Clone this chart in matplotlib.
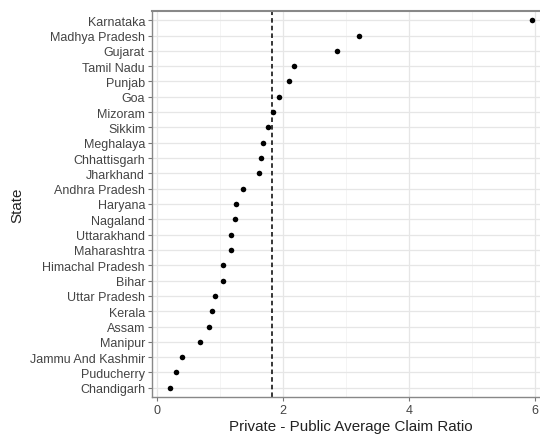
import matplotlib
matplotlib.use("Agg")
import matplotlib.pyplot as plt
import numpy as np

plt.rcParams['font.family'] = ['Liberation Sans', 'DejaVu Sans']

states = ["Karnataka", "Madhya Pradesh", "Gujarat", "Tamil Nadu", "Punjab", "Goa",
          "Mizoram", "Sikkim", "Meghalaya", "Chhattisgarh", "Jharkhand",
          "Andhra Pradesh", "Haryana", "Nagaland", "Uttarakhand", "Maharashtra",
          "Himachal Pradesh", "Bihar", "Uttar Pradesh", "Kerala", "Assam",
          "Manipur", "Jammu And Kashmir", "Puducherry", "Chandigarh"]
ratios = [5.95, 3.21, 2.85, 2.17, 2.10, 1.94, 1.84, 1.77, 1.68, 1.65, 1.62,
          1.37, 1.25, 1.24, 1.17, 1.17, 1.05, 1.05, 0.92, 0.88, 0.82, 0.69,
          0.40, 0.30, 0.21]
mean_line = 1.82
xticks = [0, 2, 4, 6]

fig = plt.figure(figsize=(5.4, 4.35), dpi=100)
ax = fig.add_axes([152/540, 37/435, (550-152)/540, (398-12)/435])

n = len(states)
ypos = np.arange(n)[::-1]
ax.scatter(ratios, ypos, s=16, color='black', zorder=3, linewidths=0)
ax.axvline(mean_line, color='black', linestyle=(0, (3, 2)), linewidth=1.1, zorder=2)

xmin, xmax = min(ratios), max(ratios)
pad = 0.05 * (xmax - xmin)
ax.set_xlim(xmin - pad, xmax + pad)
ax.set_ylim(-0.6, n - 1 + 0.6)
ax.set_xticks(xticks)
ax.set_xticklabels([str(t) for t in xticks])
ax.set_xticks([1, 3, 5], minor=True)
ax.set_yticks(ypos)
ax.set_yticklabels(states)

ax.grid(True, which='major', color='#e6e6e6', linewidth=0.9, zorder=0)
ax.grid(True, which='minor', axis='x', color='#f2f2f2', linewidth=0.6, zorder=0)
ax.set_axisbelow(True)

for sp in ax.spines.values():
    sp.set_color('#888888')
    sp.set_linewidth(1.0)
ax.spines['top'].set_linewidth(1.5)

ax.tick_params(axis='both', which='major', colors='#777777', labelcolor='#444444',
               labelsize=9, length=3, width=0.8, pad=2)
ax.tick_params(axis='x', which='minor', length=0)

ax.set_xlabel("Private - Public Average Claim Ratio", fontsize=10.9, color='#222222', labelpad=2)
ax.set_ylabel("State", fontsize=10.9, color='#222222', labelpad=4)

fig.savefig("out.png", dpi=100)
